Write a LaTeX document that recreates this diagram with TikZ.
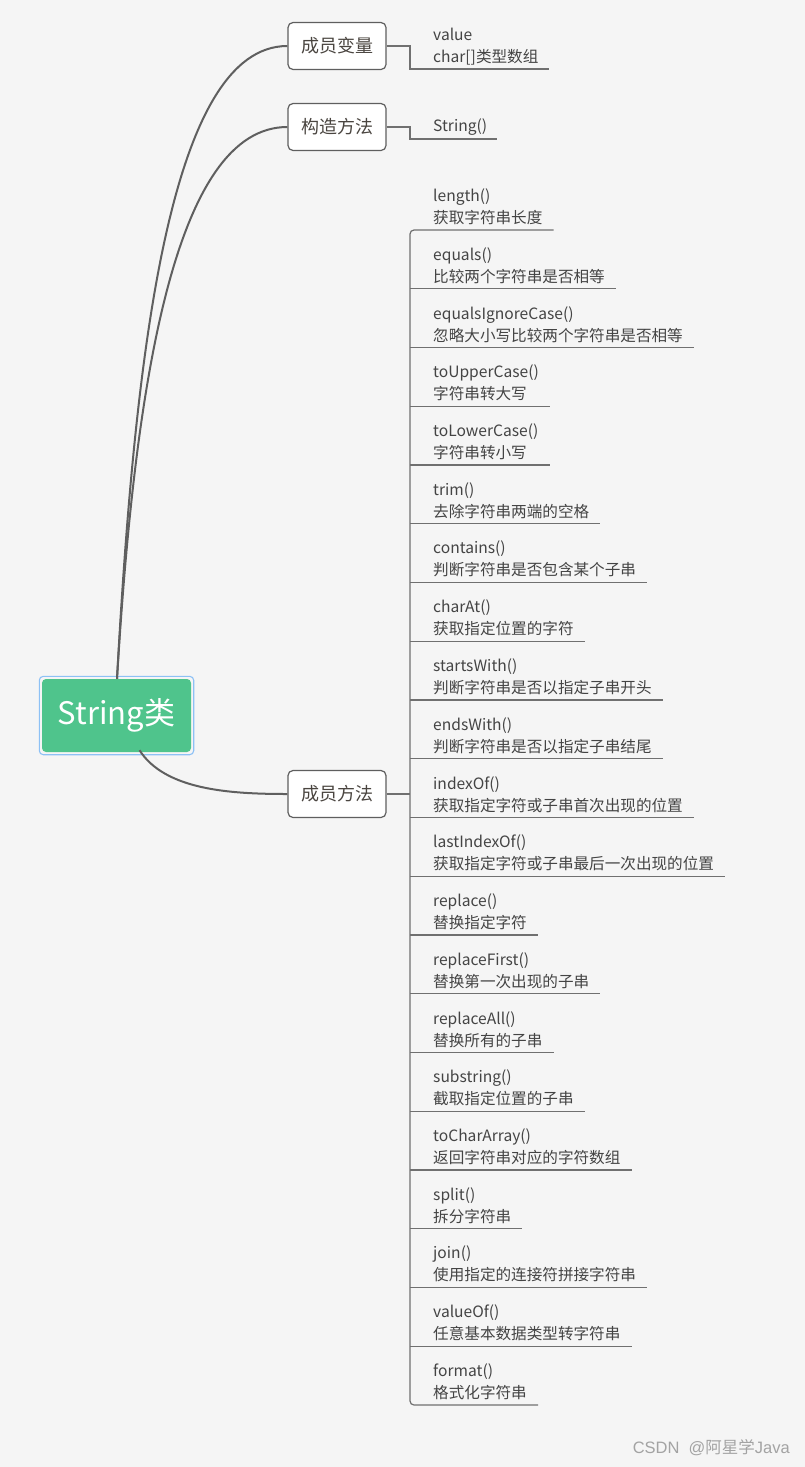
\documentclass[tikz,border=0pt]{standalone}
\usepackage{fontspec}
\setmainfont{Noto Sans CJK SC}
\newfontfamily\wmlatin{Liberation Sans}
\usetikzlibrary{calc,fit}
\definecolor{bg}{HTML}{F5F5F5}
\definecolor{txt}{HTML}{444444}
\definecolor{midtxt}{HTML}{4A4540}
\definecolor{edge}{HTML}{5F5F5F}
\definecolor{leafline}{HTML}{707070}
\definecolor{rootgreen}{HTML}{4FC48C}
\definecolor{selblue}{HTML}{8DC1F5}
\definecolor{wm}{HTML}{A3A3A3}
\tikzset{
  rootbox/.style={fill=rootgreen, text=white, rounded corners=4pt, minimum width=149pt, minimum height=73pt, inner sep=0pt, font=\fontsize{31}{34}\selectfont},
  selbox/.style={draw=selblue, line width=1.1pt, rounded corners=4pt, inner sep=2.5pt},
  midbox/.style={draw=edge, line width=1.2pt, fill=white, rounded corners=5pt, minimum width=98pt, minimum height=47pt, inner sep=0pt, text=midtxt, font=\fontsize{18}{20}\selectfont},
  leaf/.style={anchor=south west, inner sep=0pt, align=left, text=txt, font=\fontsize{15.6}{22}\selectfont},
  curve/.style={draw=edge, line width=2pt},
  tree/.style={draw=leafline, line width=1.2pt},
  wmark/.style={text=wm, font=\fontsize{16.5}{18}\selectfont, anchor=east, inner sep=0pt}
}
\begin{document}
\begin{tikzpicture}[x=1pt,y=-1pt]
\fill[bg] (0,0) rectangle (805,1467);
\useasboundingbox (0,0) rectangle (805,1467);

% root
\node[rootbox] (root) at (116.5,715.5) {String类};
\node[selbox, fit=(root)] (rootsel) {};

% middle nodes
\node[midbox] (mv) at (337,46) {成员变量};
\node[midbox] (ct) at (337,127) {构造方法};
\node[midbox] (mm) at (337,794) {成员方法};

% curves
\coordinate (rtop) at ($(root.north)+(0.5,0)$);
\coordinate (rbot) at ($(root.south)+(23,-2)$);
\draw[curve] (rtop) .. controls (135,350) and (170,46) .. (mv.west);
\draw[curve] (rtop) .. controls (135,380) and (175,127) .. (ct.west);
\draw[curve] (rbot) .. controls (165,790) and (230,794) .. (mm.west);

% member variable branch
\node[leaf] (v1) at (433,65) {value\\char[]类型数组};
\coordinate (mvj) at (410,46);
\draw[tree] (mv.east) -- (mvj) -- (410,69) -- ($(v1.south east)+(10,4)$);

% constructor branch
\node[leaf] (c1) at (433,136) {String()};
\coordinate (ctj) at (410,127);
\draw[tree] (ct.east) -- (ctj) -- (410,139) -- ($(c1.south east)+(10,3)$);

% method branch
\foreach \i/\a/\b in {
 1/length()/获取字符串长度,
 2/equals()/比较两个字符串是否相等,
 3/equalsIgnoreCase()/忽略大小写比较两个字符串是否相等,
 4/toUpperCase()/字符串转大写,
 5/toLowerCase()/字符串转小写,
 6/trim()/去除字符串两端的空格,
 7/contains()/判断字符串是否包含某个子串,
 8/charAt()/获取指定位置的字符,
 9/startsWith()/判断字符串是否以指定子串开头,
 10/endsWith()/判断字符串是否以指定子串结尾,
 11/indexOf()/获取指定字符或子串首次出现的位置,
 12/lastIndexOf()/获取指定字符或子串最后一次出现的位置,
 13/replace()/替换指定字符,
 14/replaceFirst()/替换第一次出现的子串,
 15/replaceAll()/替换所有的子串,
 16/substring()/截取指定位置的子串,
 17/toCharArray()/返回字符串对应的字符数组,
 18/split()/拆分字符串,
 19/join()/使用指定的连接符拼接字符串,
 20/valueOf()/任意基本数据类型转字符串,
 21/format()/格式化字符串}{
  \pgfmathsetmacro\yy{230+(\i-1)*58.75}
  \node[leaf] (l\i) at (433,\yy-5) {\a\\\b};
  \coordinate (u\i) at ($(l\i.south east)+(11,5)$);
  \coordinate (s\i) at (410,\yy);
}
\foreach \i in {2,...,20}{
  \draw[tree] (s\i) -- (u\i);
}
\draw[tree, rounded corners=4pt] (u1) -- (s1) -- (s21) -- (u21);
\coordinate (mmj) at (410,794);
\draw[tree] (mm.east) -- (mmj);

% watermark
\node[wmark] (wmk) at (790,1448) {{\wmlatin CSDN\ \ @}阿星学{\wmlatin Java}};
\end{tikzpicture}
\end{document}
